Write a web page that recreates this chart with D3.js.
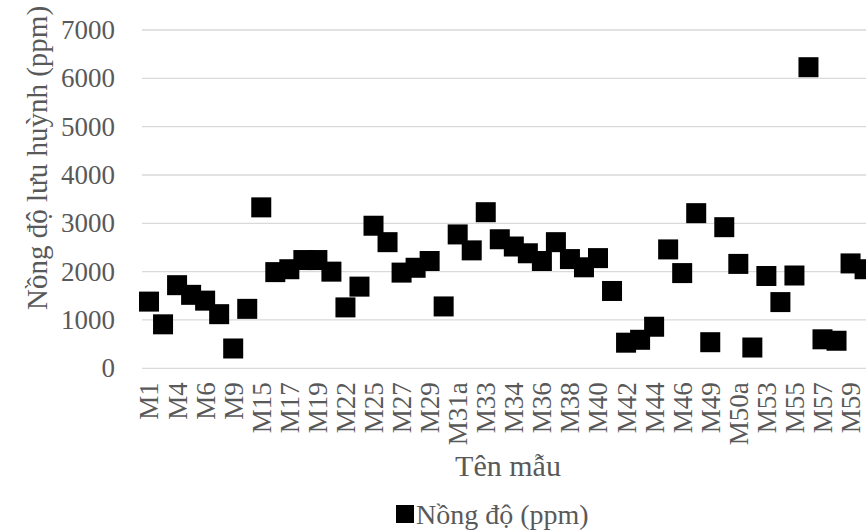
<!DOCTYPE html>
<html>
<head>
<meta charset="utf-8">
<script src="https://cdn.jsdelivr.net/npm/d3@7"></script>
<style>
  html, body { margin: 0; padding: 0; background: #ffffff; }
  svg { display: block; }
  text { font-family: "Liberation Serif", "Times New Roman", serif; fill: #595959; }
</style>
</head>
<body>
<svg id="chart" width="866" height="531"></svg>
<script>
const categories = ["M1","M2","M4","M5","M6","M7","M9","M10","M15","M16","M17","M18","M19","M20","M22","M23",
  "M25","M26","M27","M28","M29","M30","M31a","M32","M33","M33a","M34","M35","M36","M37","M38","M39",
  "M40","M41","M42","M43","M44","M45","M46","M47","M49","M50","M50a","M51","M53","M54","M55","M56",
  "M57","M58","M59","M60"];
const values = [1380, 910, 1720, 1520, 1400, 1120, 410, 1230, 3330, 1990, 2050, 2240, 2240, 2000, 1260, 1690,
  2950, 2610, 1980, 2080, 2220, 1280, 2770, 2440, 3230, 2670, 2520, 2380, 2220, 2610, 2260, 2090,
  2280, 1600, 530, 590, 860, 2460, 1970, 3210, 540, 2920, 2160, 430, 1910, 1370, 1920, 6230,
  600, 570, 2170, 2050];
const yTicks = [0, 1000, 2000, 3000, 4000, 5000, 6000, 7000];
const xTickLabels = categories.filter((d, i) => i % 2 === 0);
const seriesName = "Nồng độ (ppm)";
const yTitle = "Nồng độ lưu huỳnh (ppm)";
const xTitle = "Tên mẫu";

const svg = d3.select("#chart");
const plot = { left: 142, right: 871.6, top: 30, bottom: 368.3 };

const x = d3.scaleBand().domain(categories).range([plot.left, plot.right]).padding(0);
const y = d3.scaleLinear().domain([0, 7000]).range([plot.bottom, plot.top]);

// gridlines
svg.append("g").selectAll("line").data(yTicks).join("line")
  .attr("x1", plot.left).attr("x2", plot.right)
  .attr("y1", d => y(d)).attr("y2", d => y(d))
  .attr("stroke", "#d9d9d9").attr("stroke-width", 1.3);

// y axis labels
const yAxis = svg.append("g").attr("transform", `translate(${plot.left},0)`)
  .call(d3.axisLeft(y).tickValues(yTicks).tickSize(0).tickPadding(27).tickFormat(d3.format("d")));
yAxis.select(".domain").remove();
yAxis.selectAll("text").style("font-size", "27px").attr("fill", "#595959")
  .style("font-family", "'Liberation Serif', serif");

// x axis labels
const xAxis = svg.append("g").attr("transform", `translate(0,${plot.bottom})`)
  .call(d3.axisBottom(x).tickValues(xTickLabels).tickSize(0));
xAxis.select(".domain").remove();
xAxis.selectAll("text")
  .style("font-size", "27px").attr("fill", "#595959")
  .style("font-family", "'Liberation Serif', serif")
  .attr("transform", "rotate(-90)")
  .attr("text-anchor", "end")
  .attr("x", -14).attr("y", 0).attr("dy", "0.35em");

// markers
const ms = 20;
svg.append("g").selectAll("rect").data(values).join("rect")
  .attr("x", (d, i) => x(categories[i]) + x.bandwidth() / 2 - ms / 2)
  .attr("y", d => y(d) - ms / 2)
  .attr("width", ms).attr("height", ms)
  .attr("fill", "#000000");

// y title
svg.append("text")
  .attr("transform", `translate(47,${158}) rotate(-90)`)
  .attr("text-anchor", "middle")
  .style("font-size", "29px")
  .text(yTitle);

// x title
svg.append("text")
  .attr("x", 508).attr("y", 476)
  .attr("text-anchor", "middle")
  .style("font-size", "30px")
  .text(xTitle);

// legend
const lg = svg.append("g");
lg.append("rect").attr("x", 396).attr("y", 505).attr("width", 18).attr("height", 18).attr("fill", "#000");
lg.append("text").attr("x", 416).attr("y", 524).style("font-size", "28px").text(seriesName);
</script>
</body>
</html>
